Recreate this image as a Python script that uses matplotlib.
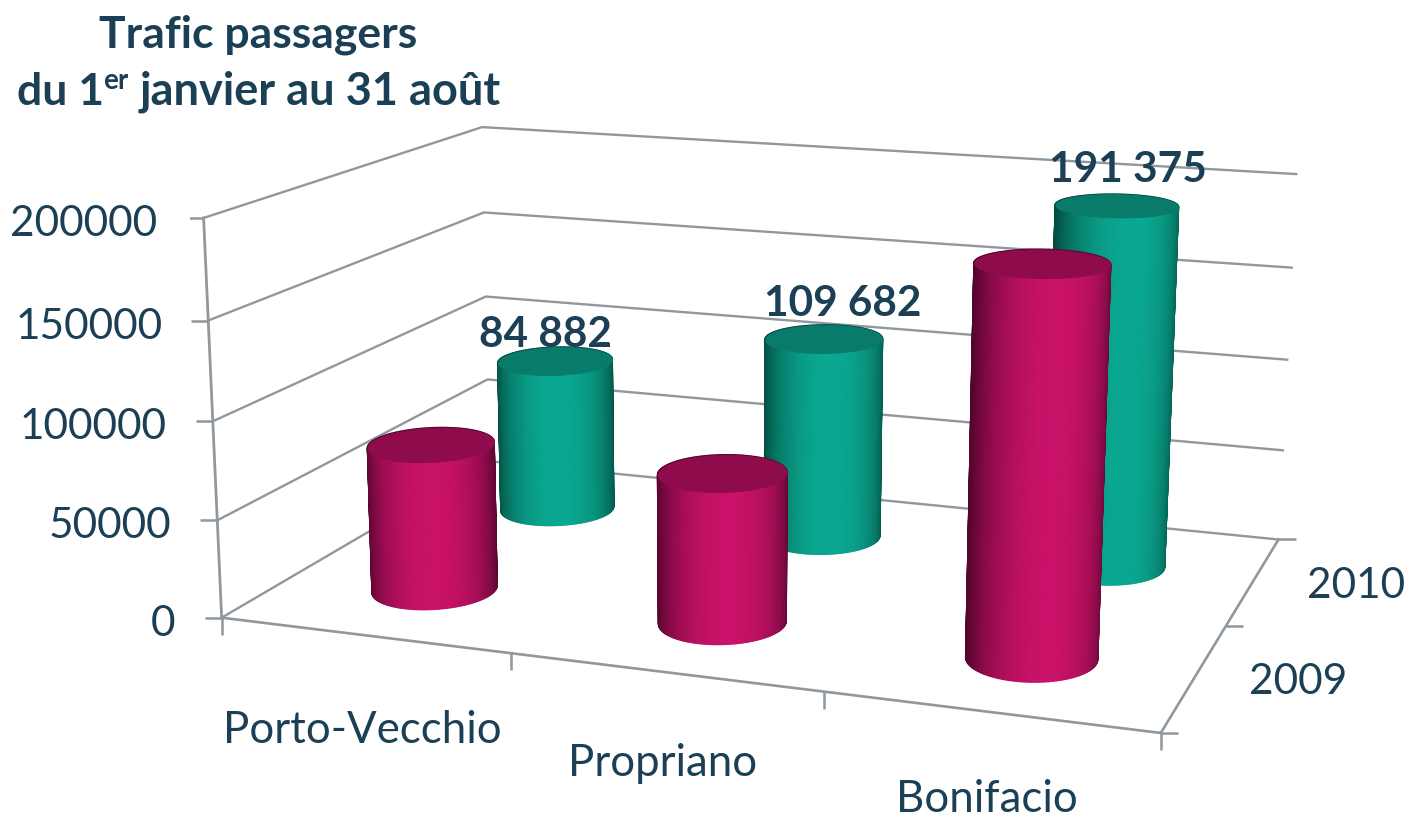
import numpy as np
import matplotlib
matplotlib.use('Agg')
import matplotlib.pyplot as plt
from mpl_toolkits.mplot3d import proj3d
from mpl_toolkits.mplot3d.art3d import Poly3DCollection

plt.rcParams['font.family'] = ['Lato', 'DejaVu Sans']

# data
airports = ['Porto-Vecchio', 'Propriano', 'Bonifacio']
years = ['2009', '2010']
traffic_2009 = [76000, 76000, 190500]
traffic_2010 = [84882, 109682, 191375]
labels_2010 = ['84 882', '109 682', '191 375']
z_ticks = [0, 50000, 100000, 150000, 200000]

W, H = 1409, 819
text_col = '#1b3f55'
grid_col = '#8f989e'
rx, ry = 0.198, 0.22

# camera, fitted on the corners of the original frame
elev, azim, roll, focal = 13.8016, -70.7979, -0.2304, 0.4572
box = (2.3443, 1.5594, 1)
s, cx, cy = 6162.58, 775.55, 389.03

fig = plt.figure(figsize=(W / 100, H / 100), dpi=100)
side = s * 0.185
ax = fig.add_axes([(cx - s * 0.095) / W, (H - cy - s * 0.095) / H, side / W, side / H],
                  projection='3d', computed_zorder=False)
ax.view_init(elev, azim, roll)
ax.set_proj_type('persp', focal_length=focal)
ax.set_box_aspect(box)
ax.set_axis_off()
ax.patch.set_alpha(0)
ax.set_xlim(0, 3)
ax.set_ylim(0, 2)
ax.set_zlim(0, 200000)


def label(txt, x, y, z, dx, dy, **kw):
    # text placed from a 3d data point, with an offset in pixels
    u, v, _ = proj3d.proj_transform(x, y, z, ax.get_proj())
    ax.annotate(txt, (u, v), xytext=(dx, dy), textcoords='offset pixels',
                ha='center', va='center', color=text_col, annotation_clip=False, **kw)


def cylinder(x, y, val, dark, bright, top, zo):
    th = np.linspace(0, 2 * np.pi, 145)
    xs = x + rx * np.cos(th)
    ys = y + ry * np.sin(th)
    # solid base under the side, so no white shows between the facets
    base = Poly3DCollection([list(zip(xs, ys, np.zeros_like(xs)))], facecolors=[bright],
                            edgecolors='none', zorder=zo - 0.1)
    ax.add_collection3d(base, autolim=False)
    quads, cols = [], []
    for i in range(len(th) - 1):
        quads.append([(xs[i], ys[i], 0), (xs[i + 1], ys[i + 1], 0),
                      (xs[i + 1], ys[i + 1], val), (xs[i], ys[i], val)])
        rel = (th[i] + th[i + 1]) / 2 - np.radians(azim) - 0.15
        t = max(np.cos(rel), 0) ** 1.3
        cols.append(np.array(dark) * (1 - t) + np.array(bright) * t)
    side_poly = Poly3DCollection(quads, facecolors=cols, edgecolors=cols, linewidths=1.1, zorder=zo)
    ax.add_collection3d(side_poly, autolim=False)
    cap = Poly3DCollection([list(zip(xs, ys, np.full_like(xs, val)))], facecolors=top,
                           edgecolors=top, linewidths=0.5, zorder=zo + 0.05)
    ax.add_collection3d(cap, autolim=False)


# walls and floor
for z in z_ticks:
    ax.plot([0, 0, 3], [0, 2, 2], [z, z, z], color=grid_col, lw=1.7, zorder=1)
ax.plot([0, 0], [0, 0], [0, 200000], color=grid_col, lw=2, zorder=1)
ax.plot([0, 3, 3], [0, 0, 2], [0, 0, 0], color=grid_col, lw=1.9, zorder=1)

# tick marks
ax.plot([0] * 5, [0] * 5, z_ticks, ls='', marker=0, ms=12, mew=1.8, color=grid_col, zorder=1)
ax.plot([0, 1, 2, 3], [0] * 4, [0] * 4, ls='', marker=3, ms=12, mew=1.8, color=grid_col, zorder=1)
ax.plot([3, 3, 3], [0, 1, 2], [0, 0, 0], ls='', marker=1, ms=12, mew=1.8, color=grid_col, zorder=1)

# cylinders, back row first
green = ((0.01, 0.31, 0.26), (0.04, 0.66, 0.57), '#087b6b')
pink = ((0.33, 0.02, 0.18), (0.79, 0.07, 0.41), '#8e0b4c')
for i, val in enumerate(traffic_2010):
    cylinder(i + 0.5, 1.5, val, *green, 3 + i * 0.2)
for i, val in enumerate(traffic_2009):
    cylinder(i + 0.5, 0.5, val, *pink, 5 + i * 0.2)

# value labels
offs = [(-10, 26), (19, 35), (11, 36)]
for i, val in enumerate(traffic_2010):
    label(labels_2010[i], i + 0.5, 1.5, val, offs[i][0], offs[i][1], fontsize=30.5,
          fontweight='bold', zorder=2.5)

# axis labels
for z in z_ticks:
    u, v, _ = proj3d.proj_transform(0, 0, z, ax.get_proj())
    ax.annotate(str(z), (u, v), xytext=(-46, -6), textcoords='offset pixels', ha='right',
                va='center', color=text_col, fontsize=30.5, annotation_clip=False)
name_offs = [(-2, -95), (-2, -91), (-2, -88)]
for i, name in enumerate(airports):
    label(name, i + 0.5, 0, 0, name_offs[i][0], name_offs[i][1], fontsize=31.5)
for j, name in enumerate(years):
    label(name, 3, j + 0.5, 0, 103, -5, fontsize=30.5)

# title
title_kw = dict(color=text_col, fontweight='bold', va='center')
fig.text(258 / W, 1 - 35 / H, 'Trafic passagers', ha='center', fontsize=32, **title_kw)
fig.text(17 / W, 1 - 92 / H, 'du 1', ha='left', fontsize=32, **title_kw)
fig.text(103 / W, 1 - 81 / H, 'er', ha='left', fontsize=20, **title_kw)
fig.text(140 / W, 1 - 92 / H, 'janvier au 31 août', ha='left', fontsize=32.5, **title_kw)

fig.savefig('out.png', dpi=100)
